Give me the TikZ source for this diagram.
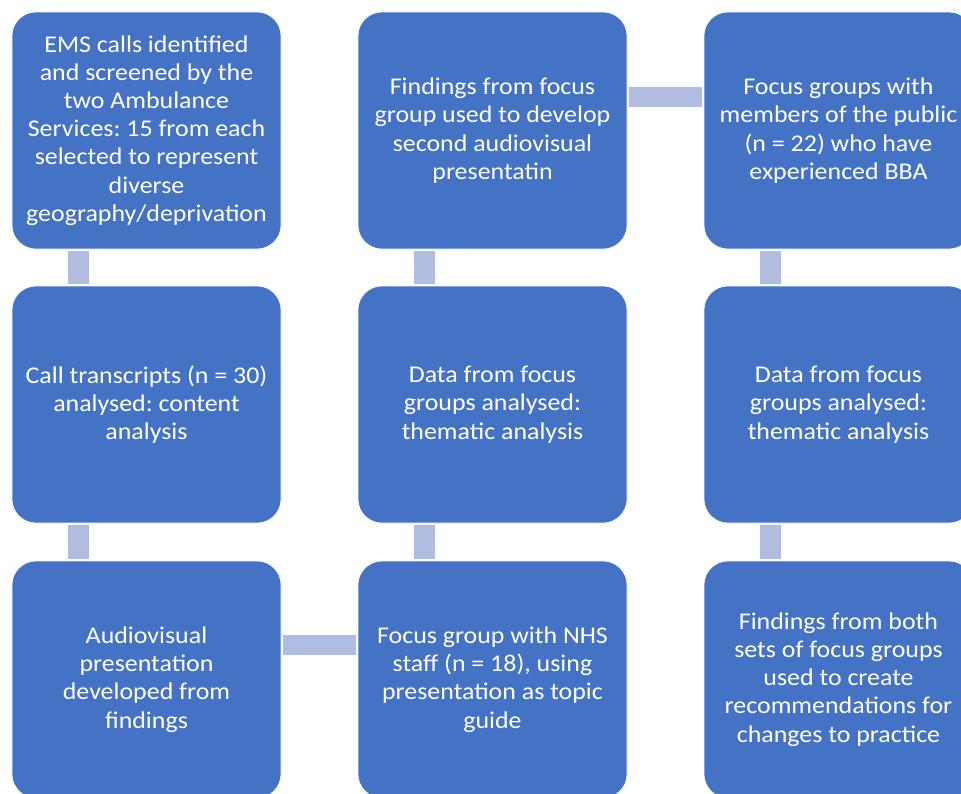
\documentclass[tikz,border=0pt]{standalone}
\usepackage{fontspec}
\setmainfont[FakeStretch=1.08]{Carlito}
\usetikzlibrary{calc}
\definecolor{boxblue}{RGB}{68,114,196}
\definecolor{barblue}{RGB}{176,188,224}
\frenchspacing
\begin{document}
\begin{tikzpicture}[x=1pt,y=-1pt,
  stepbox/.style={rectangle, fill=boxblue, draw=white, line width=0.6pt,
    rounded corners=24pt, minimum width=269pt, minimum height=237pt,
    inner sep=0pt, align=center, text=white,
    font=\fontsize{24}{28.2}\selectfont},
  vbar/.style={barblue, line width=21pt},
  hbar/.style={barblue, line width=20pt}]
\useasboundingbox (0,0) rectangle (961,793);
\clip (0,0) rectangle (961,793);
\fill[white] (0,0) rectangle (961,793);
% column 1
\node[stepbox] (a1) at (146.5,130.5) {EMS calls identified\\and screened by the\\two Ambulance\\Services: 15 from each\\selected to represent\\diverse\\geography/deprivation};
\node[stepbox] (a2) at (146.5,404.5) {Call transcripts (n = 30)\\analysed: content\\analysis};
\node[stepbox] (a3) at (146.5,679.5) {Audiovisual\\presentation\\developed from\\findings};
% column 2
\node[stepbox] (b3) at (492.5,679.5) {Focus group with NHS\\staff (n = 18), using\\presentation as topic\\guide};
\node[stepbox] (b2) at (492.5,404.5) {Data from focus\\groups analysed:\\thematic analysis};
\node[stepbox] (b1) at (492.5,130.5) {Findings from focus\\group used to develop\\second audiovisual\\presentatin};
% column 3
\node[stepbox] (c1) at (838.5,130.5) {Focus groups with\\members of the public\\(n = 22) who have\\experienced BBA};
\node[stepbox] (c2) at (838.5,404.5) {Data from focus\\groups analysed:\\thematic analysis};
\node[stepbox] (c3) at (838.5,679.5) {Findings from both\\sets of focus groups\\used to create\\recommendations for\\changes to practice};
% connectors
\draw[vbar] ($(a1.south west)+(66.5,2)$) -- ($(a2.north west)+(66.5,-2)$);
\draw[vbar] ($(a2.south west)+(66.5,2)$) -- ($(a3.north west)+(66.5,-2)$);
\draw[hbar] ($(a3.north east)+(2,84.5)$) -- ($(b3.north west)+(-2,84.5)$);
\draw[vbar] ($(b3.north west)+(66.5,-2)$) -- ($(b2.south west)+(66.5,2)$);
\draw[vbar] ($(b2.north west)+(66.5,-2)$) -- ($(b1.south west)+(66.5,2)$);
\draw[hbar] ($(b1.north east)+(2,85)$) -- ($(c1.north west)+(-2,85)$);
\draw[vbar] ($(c1.south west)+(66.5,2)$) -- ($(c2.north west)+(66.5,-2)$);
\draw[vbar] ($(c2.south west)+(66.5,2)$) -- ($(c3.north west)+(66.5,-2)$);
\end{tikzpicture}
\end{document}
